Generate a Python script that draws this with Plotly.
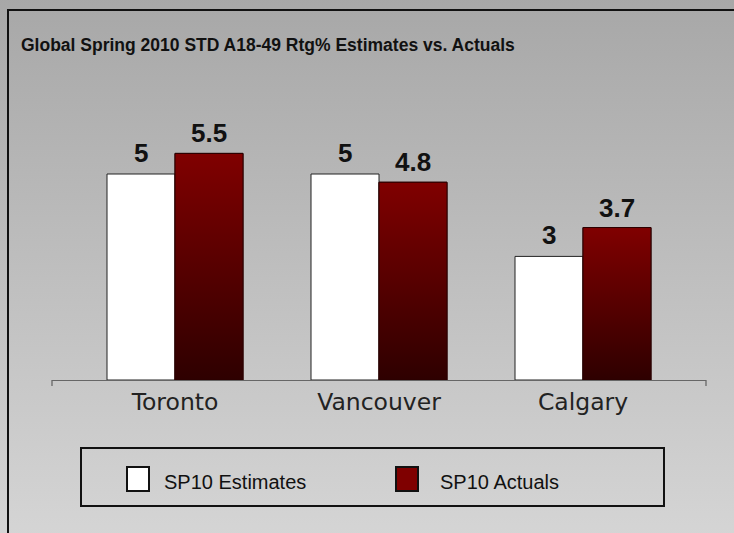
import base64
import plotly.graph_objects as go

categories = ["Toronto", "Vancouver", "Calgary"]
estimates = [5, 5, 3]
actuals = [5.5, 4.8, 3.7]
series_names = ["SP10 Estimates", "SP10 Actuals"]
title_text = "Global Spring 2010 STD A18-49 Rtg% Estimates vs. Actuals"

W, H = 734, 533
SANS = "Liberation Sans, Arial, Helvetica, sans-serif"
CAT_FONT = "DejaVu Sans, Noto Sans, sans-serif"


def px_x(x):
    return x / W


def px_y(y):
    return 1 - y / H


xpos = list(range(len(categories)))
bar_w = 1 / 3

# background gradient as inline svg image
svg = (
    '<svg xmlns="http://www.w3.org/2000/svg" viewBox="0 0 100 100" preserveAspectRatio="none">'
    '<defs><linearGradient id="g" x1="0" y1="0" x2="0" y2="1">'
    '<stop offset="0" stop-color="#a7a7a7"/><stop offset="1" stop-color="#d5d5d5"/>'
    '</linearGradient></defs><rect x="-10" y="0" width="120" height="100" fill="url(#g)"/></svg>'
)
bg_src = "data:image/svg+xml;base64," + base64.b64encode(svg.encode()).decode()

fig = go.Figure()
fig.add_trace(go.Bar(
    x=xpos, y=estimates, name=series_names[0],
    marker=dict(color="#ffffff", line=dict(color="#222222", width=1)),
    showlegend=False,
))
fig.add_trace(go.Bar(
    x=xpos, y=actuals, name=series_names[1],
    marker=dict(color="#5a0000", line=dict(color="#2a0000", width=1)),
    showlegend=False,
))

# gradient overlay for the actuals bars
for xi, v in zip(xpos, actuals):
    fig.add_trace(go.Scatter(
        x=[xi, xi, xi + bar_w, xi + bar_w, xi],
        y=[0, v, v, 0, 0],
        mode="lines", fill="toself",
        line=dict(color="#2a0000", width=1),
        fillgradient=dict(type="vertical", start=0, stop=v,
                          colorscale=[[0, "#2e0000"], [1, "#800000"]]),
        hoverinfo="skip", showlegend=False,
    ))

annotations = []
for xi, v in zip(xpos, estimates):
    annotations.append(dict(x=xi - bar_w / 2, y=v, xref="x", yref="y", text=f"<b>{v:g}</b>",
                            showarrow=False, yanchor="middle", yshift=21,
                            font=dict(family=SANS, size=26, color="#111111")))
for xi, v in zip(xpos, actuals):
    annotations.append(dict(x=xi + bar_w / 2, y=v, xref="x", yref="y", text=f"<b>{v:g}</b>",
                            showarrow=False, yanchor="middle", yshift=20,
                            font=dict(family=SANS, size=26, color="#111111")))

# title
annotations.append(dict(x=px_x(19), y=px_y(45), xref="paper", yref="paper",
                        text=f"<b>{title_text}</b>", showarrow=False,
                        xanchor="left", yanchor="middle",
                        font=dict(family=SANS, size=17.5, color="#111111")))

# custom legend
legend_items = [(127, 164, "#ffffff"), (396, 440, "#7f0000")]
shapes = []
for (sx, tx, col), name in zip(legend_items, series_names):
    shapes.append(dict(type="rect", xref="paper", yref="paper",
                       x0=px_x(sx), x1=px_x(sx + 22), y0=px_y(491), y1=px_y(467),
                       fillcolor=col, line=dict(color="#111111", width=2)))
    annotations.append(dict(x=px_x(tx - 2), y=px_y(482), xref="paper", yref="paper",
                            text=name, showarrow=False, xanchor="left", yanchor="middle",
                            font=dict(family=SANS, size=20, color="#111111")))
shapes.append(dict(type="rect", xref="paper", yref="paper",
                   x0=px_x(81), x1=px_x(664), y0=px_y(506), y1=px_y(448),
                   line=dict(color="#111111", width=2)))
# frame: left and top edges only
shapes.append(dict(type="line", xref="paper", yref="paper",
                   x0=px_x(8), x1=px_x(8), y0=-0.02, y1=px_y(10),
                   line=dict(color="#111111", width=2)))
shapes.append(dict(type="line", xref="paper", yref="paper",
                   x0=px_x(7), x1=1.02, y0=px_y(10), y1=px_y(10),
                   line=dict(color="#111111", width=2)))
# end ticks of the category axis
for xp in (52, 706):
    shapes.append(dict(type="line", xref="paper", yref="paper",
                       x0=px_x(xp), x1=px_x(xp), y0=px_y(380), y1=px_y(386),
                       line=dict(color="#666666", width=1.3)))

scale = 41.2
top_px = 90
fig.update_layout(
    width=W, height=H,
    margin=dict(l=0, r=0, t=0, b=0),
    paper_bgcolor="#c0c0c0", plot_bgcolor="rgba(0,0,0,0)",
    barmode="group", bargap=1 / 3, bargroupgap=0,
    showlegend=False,
    images=[dict(source=bg_src, xref="paper", yref="paper", x=-0.01, y=1.01,
                 sizex=1.02, sizey=1.02, sizing="stretch", layer="below",
                 xanchor="left", yanchor="top")],
    annotations=annotations,
    shapes=shapes,
    xaxis=dict(domain=[px_x(52), px_x(706)], range=[-0.603, 2.603],
               tickvals=xpos, ticktext=categories, ticks="",
               showline=True, linecolor="#666666", linewidth=1.3,
               showgrid=False, zeroline=False, ticklabelstandoff=1,
               tickfont=dict(family=CAT_FONT, size=23.5, color="#222222")),
    yaxis=dict(domain=[px_y(380), px_y(top_px)], range=[0, (380 - top_px) / scale],
               visible=False, showgrid=False, zeroline=False),
)

fig.write_html(
    "out.html",
    config={"displayModeBar": False},
    post_script="document.body.style.margin='0';document.body.style.overflow='hidden';",
)
